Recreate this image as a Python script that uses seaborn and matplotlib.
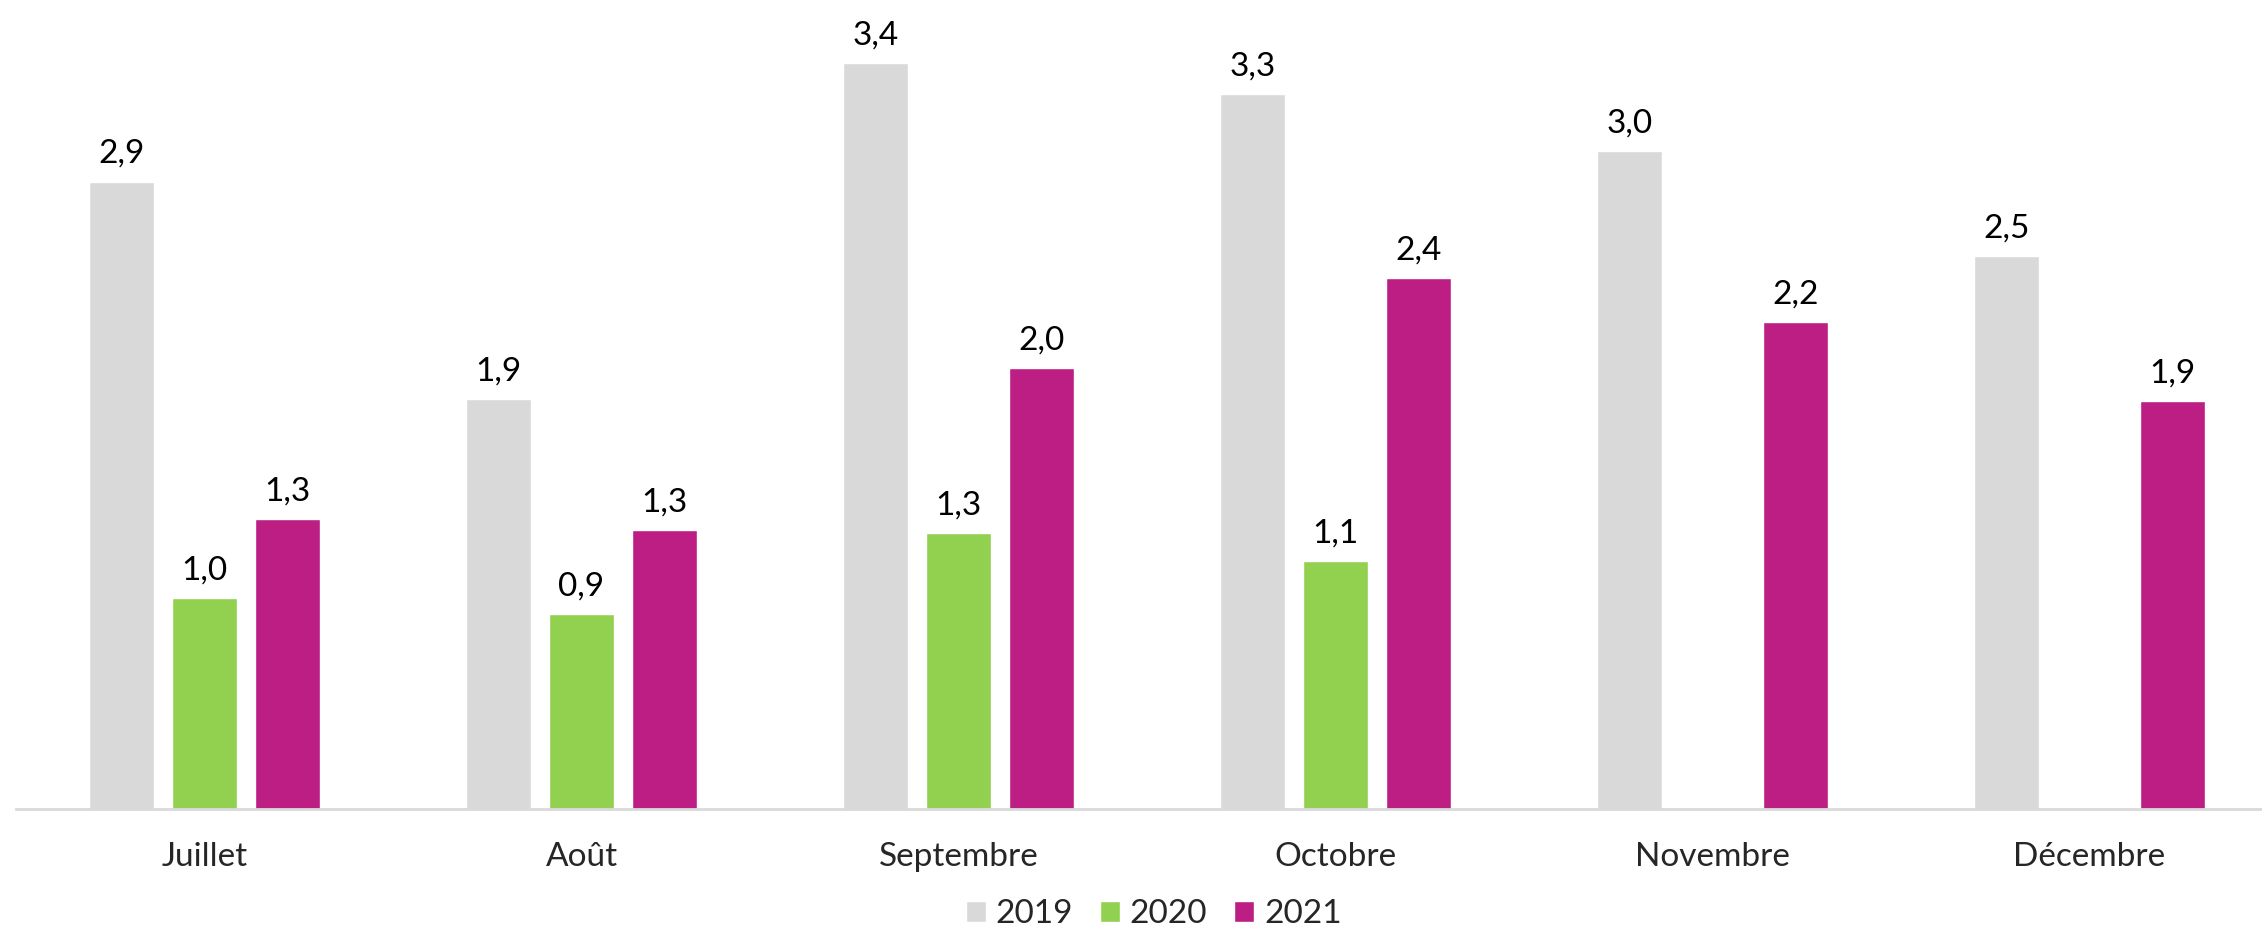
import matplotlib
matplotlib.use("Agg")
import matplotlib.pyplot as plt
import seaborn as sns
import pandas as pd
import numpy as np

months = ['Juillet', 'Août', 'Septembre', 'Octobre', 'Novembre', 'Décembre']
years = ['2019', '2020', '2021']
v2019 = [2.86, 1.87, 3.40, 3.26, 3.00, 2.52]
v2020 = [0.96, 0.89, 1.26, 1.13, np.nan, np.nan]
v2021 = [1.32, 1.27, 2.01, 2.42, 2.22, 1.86]
colors = ['#D9D9D9', '#92D050', '#BC1E84']

df = pd.DataFrame({
    'mois': months * 3,
    'annee': [y for y in years for _ in months],
    'val': v2019 + v2020 + v2021,
})

sns.set_style('white')
plt.rcParams['font.family'] = ['Lato', 'DejaVu Sans']

W, H = 2262, 925
fig = plt.figure(figsize=(W / 100, H / 100), dpi=100)
ax = fig.add_axes([16 / W, (H - 809) / H, (W - 16) / W, 809 / H])

sns.barplot(data=df, x='mois', y='val', hue='annee', hue_order=years,
            order=months, palette=colors, width=0.66, gap=0.22,
            saturation=1, ax=ax, legend=True)

for cont in ax.containers:
    labels = ['' if np.isnan(v) else f'{v:.1f}'.replace('.', ',') for v in cont.datavalues]
    ax.bar_label(cont, labels=labels, padding=9, fontsize=24, color='black')

ax.set_xlabel('')
ax.set_ylabel('')
ax.set_yticks([])
for s in ['top', 'right', 'left']:
    ax.spines[s].set_visible(False)
ax.spines['bottom'].set_color('#D9D9D9')
ax.spines['bottom'].set_linewidth(2)

# category separators as minor ticks (set before the limits, set_xticks widens the view)
ax.set_xticks(np.arange(-0.5, 6.5, 1.0), minor=True)
ax.tick_params(axis='x', which='minor', length=10, width=1.5, color='#D9D9D9', direction='out')
ax.tick_params(axis='x', which='major', length=0, labelsize=24, pad=24)

ax.set_ylim(0, 809 / 219.4)
ax.set_xlim(-0.5, -0.5 + (W - 16) / 377)

handles, labels = ax.get_legend_handles_labels()
ax.legend_.remove()
fig.legend(handles, labels, loc='center', bbox_to_anchor=(0.51, 0.012), ncol=3,
           frameon=False, fontsize=24, handlelength=0.6, handleheight=0.6,
           handletextpad=0.3, columnspacing=0.8)

fig.savefig('out.png', dpi=100)
